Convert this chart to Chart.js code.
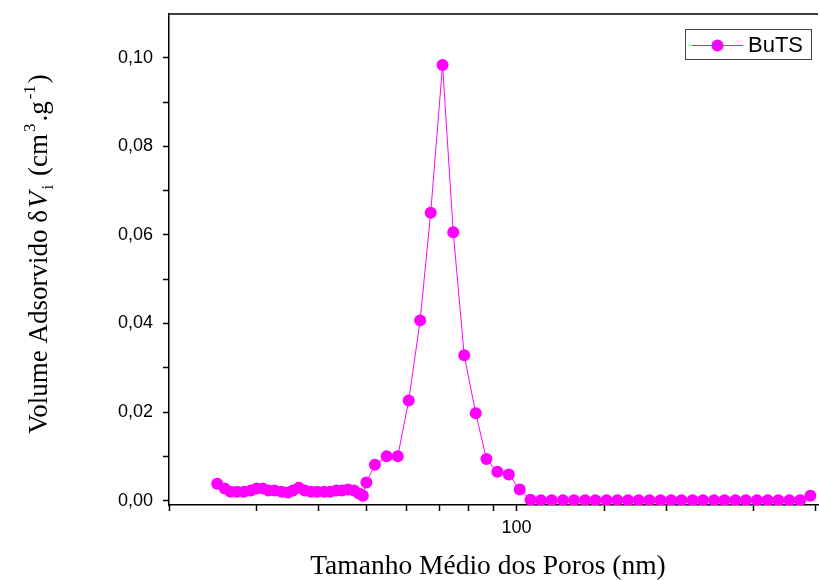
<!DOCTYPE html>
<html>
<head>
<meta charset="utf-8">
<script src="https://cdn.jsdelivr.net/npm/chart.js@4.4.1/dist/chart.umd.min.js"></script>
<style>
  html, body { margin: 0; padding: 0; background: #fff; }
  #wrap { width: 819px; height: 580px; }
</style>
</head>
<body>
<div id="wrap"><canvas id="poreChart" width="819" height="580"></canvas></div>
<script>
// Pore size distribution - BuTS
const seriesName = 'BuTS';
const xTitle = 'Tamanho Médio dos Poros (nm)';

// pore diameter (nm)
const poreSize = [
    25.0, 25.9, 26.6, 27.4, 28.3, 29.2, 30.0, 30.9, 31.7, 32.6,
    33.7, 34.7, 35.5, 36.5, 37.5, 38.6, 39.7, 41.0, 42.2, 43.4,
    44.6, 45.8, 47.1, 48.2, 49.1,
    49.9, 51.9, 54.8, 57.7, 60.7, 64.0, 67.2, 71.0, 74.6, 78.5,
    82.8, 87.0, 91.5, 96.5, 101.5, 106.7,
    112.0, 117.7, 124.0, 130.5, 137.4, 144.1, 151.7, 159.5, 167.6, 176.1,
    185.1, 194.8, 204.7, 214.7, 226.0, 237.1, 249.6, 261.9, 275.6, 289.2,
    304.4, 320.0, 336.2, 353.9, 371.9, 390.0
];

// adsorbed volume dV (cm3/g)
const volume = [
    0.0038, 0.0027, 0.0020, 0.0020, 0.0020, 0.0023, 0.0027, 0.0027, 0.0023, 0.0023,
    0.0020, 0.0018, 0.0023, 0.0029, 0.0023, 0.0020, 0.0020, 0.0020, 0.0020, 0.0023,
    0.0023, 0.0025, 0.0023, 0.0016, 0.0011,
    0.0041, 0.0081, 0.0100, 0.0100, 0.0226, 0.0407, 0.0650, 0.0984, 0.0606, 0.0328,
    0.0197, 0.0094, 0.0065, 0.0059, 0.0025, 0.0002,
    0.0001, 0.0001, 0.0001, 0.0001, 0.0001, 0.0001, 0.0001, 0.0001, 0.0001, 0.0001,
    0.0001, 0.0001, 0.0001, 0.0001, 0.0001, 0.0001, 0.0001, 0.0001, 0.0001, 0.0001,
    0.0001, 0.0001, 0.0001, 0.0001, 0.0001, 0.0011
];

const xMin = 20;
const xMax = 404;
const xLabelled = [100];
const yMin = -0.001;
const yMax = 0.1099;
const yStep = 0.01;

const magenta = '#ff00ff';
const sansFont = '"Liberation Sans", Arial, sans-serif';
const serifFont = '"Liberation Serif", "Times New Roman", serif';

// drop the label paddings chart.js adds so the plot box sits where the original one does
function noScalePadding(scale) {
    scale.paddingTop = 0;
    scale.paddingBottom = 0;
    scale.paddingLeft = 0;
    scale.paddingRight = 0;
}

// Axis titles + frame top + boxed legend
const decorPlugin = {
    id: 'decor',
    afterDraw(chart) {
        const ctx = chart.ctx;
        const area = chart.chartArea;
        ctx.save();

        // top border of the frame
        ctx.strokeStyle = '#000';
        ctx.lineWidth = 1.5;
        ctx.beginPath();
        ctx.moveTo(area.left, area.top);
        ctx.lineTo(area.right, area.top);
        ctx.stroke();

        // x title
        ctx.fillStyle = '#000';
        ctx.font = '27.5px ' + serifFont;
        ctx.textAlign = 'center';
        ctx.textBaseline = 'alphabetic';
        ctx.fillText(xTitle, 488, 574);

        // y title, built from pieces (italic V, subscript, superscripts)
        const pieces = [
            { t: 'Volume Adsorvido \u03b4', f: '27px ' + serifFont, dy: 0 },
            { t: 'V', f: 'italic 27px ' + serifFont, dy: 0 },
            { t: 'i', f: '17px ' + serifFont, dy: 6 },
            { t: ' (cm', f: '27px ' + serifFont, dy: 0 },
            { t: '3', f: '17px ' + serifFont, dy: -12 },
            { t: '.g', f: '27px ' + serifFont, dy: 0 },
            { t: '-1', f: '17px ' + serifFont, dy: -12 },
            { t: ')', f: '27px ' + serifFont, dy: 0 }
        ];
        let total = 0;
        pieces.forEach(p => { ctx.font = p.f; total += ctx.measureText(p.t).width + 2; });
        ctx.translate(47, 253);
        ctx.rotate(-Math.PI / 2);
        ctx.textAlign = 'left';
        let x = -total / 2;
        pieces.forEach(p => {
            ctx.font = p.f;
            ctx.fillText(p.t, x, p.dy);
            x += ctx.measureText(p.t).width + 2;
        });
        ctx.setTransform(1, 0, 0, 1, 0, 0);

        // legend box
        ctx.strokeStyle = '#444';
        ctx.lineWidth = 1;
        ctx.strokeRect(685.5, 29.5, 126, 30);
        ctx.strokeStyle = magenta;
        ctx.beginPath();
        ctx.moveTo(692, 45.5);
        ctx.lineTo(743, 45.5);
        ctx.stroke();
        ctx.fillStyle = magenta;
        ctx.beginPath();
        ctx.arc(717.5, 45.5, 6, 0, Math.PI * 2);
        ctx.fill();
        ctx.fillStyle = '#000';
        ctx.font = '22px ' + sansFont;
        ctx.textBaseline = 'middle';
        ctx.fillText(seriesName, 748, 46);

        ctx.restore();
    }
};

const ctx = document.getElementById('poreChart');
new Chart(ctx, {
    type: 'line',
    data: {
        datasets: [{
            label: seriesName,
            data: poreSize.map((v, i) => ({ x: v, y: volume[i] })),
            borderColor: magenta,
            borderWidth: 1,
            backgroundColor: magenta,
            pointBackgroundColor: magenta,
            pointBorderWidth: 0,
            pointRadius: 6,
            tension: 0,
            fill: false
        }]
    },
    options: {
        responsive: false,
        animation: false,
        devicePixelRatio: 1,
        layout: { autoPadding: false, padding: { left: 0, right: 1, top: 14, bottom: 0 } },
        plugins: {
            legend: { display: false },
            tooltip: { enabled: false }
        },
        scales: {
            x: {
                type: 'logarithmic',
                min: xMin,
                max: xMax,
                afterBuildTicks: scale => {
                    scale.ticks = scale.ticks.filter(t => t.value <= 400);
                },
                afterFit: scale => { scale.height = 75; noScalePadding(scale); },
                border: { display: true, color: '#000', width: 1.5 },
                grid: { drawOnChartArea: false, drawTicks: true, tickLength: 6, tickColor: '#000', tickWidth: 1.5 },
                ticks: {
                    autoSkip: false,
                    maxRotation: 0,
                    padding: 6,
                    color: '#000',
                    font: { family: sansFont, size: 18 },
                    callback: value => xLabelled.includes(Math.round(value)) ? String(Math.round(value)) : ''
                }
            },
            y: {
                min: yMin,
                max: yMax,
                afterFit: scale => { scale.width = 169; noScalePadding(scale); },
                border: { display: true, color: '#000', width: 1.5 },
                grid: { drawOnChartArea: false, drawTicks: true, tickLength: 6, tickColor: '#000', tickWidth: 1.5 },
                ticks: {
                    stepSize: yStep,
                    includeBounds: false,
                    padding: 10,
                    color: '#000',
                    font: { family: sansFont, size: 18 },
                    callback: value => {
                        const n = Math.round(value * 100);
                        return n % 2 === 0 ? (n / 100).toFixed(2).replace('.', ',') : '';
                    }
                }
            }
        }
    },
    plugins: [decorPlugin]
});
</script>
</body>
</html>
